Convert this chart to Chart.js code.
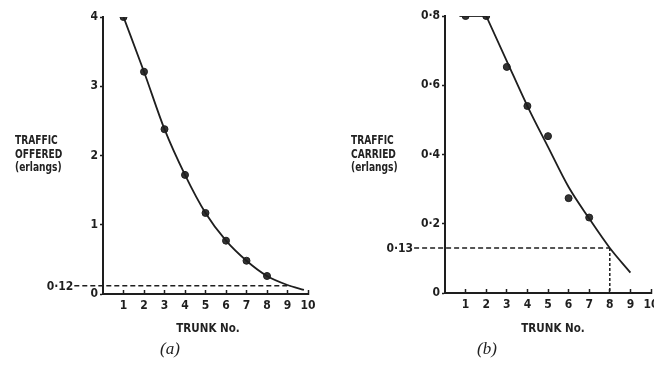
<!DOCTYPE html>
<html>
<head>
<meta charset="utf-8">
<script src="https://cdn.jsdelivr.net/npm/chart.js@4.4.1/dist/chart.umd.min.js"></script>
<style>
html, body { margin: 0; padding: 0; background: #fff; overflow: hidden; width: 654px; height: 373px; }
canvas { position: absolute; top: 0; }
#chartA { left: 0; }
#chartB { left: 330px; }
.lbl { position: absolute; font-family: "Liberation Sans Narrow", "DejaVu Sans Condensed", sans-serif; font-weight: bold; font-size: 11.5px; line-height: 13.7px; color: #222; }
.ttl { transform: scaleX(0.88); transform-origin: left top; }
.ctr { text-align: center; width: 120px; }
.cap { position: absolute; font-family: "Liberation Serif", serif; font-style: italic; font-size: 17px; line-height: 17px; color: #222; width: 60px; text-align: center; }
</style>
</head>
<body>
<canvas id="chartA" width="330" height="373"></canvas>
<canvas id="chartB" width="344" height="373"></canvas>

<div class="lbl ttl" style="left:15px; top:134px;">TRAFFIC<br>OFFERED<br>(erlangs)</div>
<div class="lbl ttl" style="left:351px; top:134px;">TRAFFIC<br>CARRIED<br>(erlangs)</div>
<div class="lbl ctr" style="left:148px; top:322px;">TRUNK No.</div>
<div class="lbl ctr" style="left:493px; top:322px;">TRUNK No.</div>
<div class="cap" style="left:140px; top:340px;">(a)</div>
<div class="cap" style="left:457px; top:340px;">(b)</div>

<script>
// (a) traffic offered to each trunk
const trunksA = [1, 2, 3, 4, 5, 6, 7, 8];
const offeredMarks = [4.0, 3.21, 2.38, 1.72, 1.17, 0.77, 0.48, 0.26];
// fitted curve, carried on past the last point
const offeredCurveX = [1, 2, 3, 4, 5, 6, 7, 8, 9, 9.8];
const offeredCurve = [4.0, 3.21, 2.38, 1.72, 1.17, 0.77, 0.48, 0.26, 0.13, 0.06];
const refLevelA = 0.12;
const refCrossA = 9.15;

// (b) traffic carried by each trunk
const trunksB = [1, 2, 3, 4, 5, 6, 7];
const carriedMarks = [0.8, 0.8, 0.653, 0.54, 0.453, 0.274, 0.218];
const carriedFlatX = [0.7, 2];
const carriedFlat = [0.8, 0.8];
const carriedCurveX = [2, 3, 4, 5, 6, 7, 8, 9];
const carriedCurve = [0.8, 0.67, 0.54, 0.422, 0.306, 0.215, 0.13, 0.059];
const refLevelB = 0.13;
const refTrunkB = 8;

const INK = '#1e1e1e';
const FONT = '"Liberation Sans Narrow", "DejaVu Sans Condensed", sans-serif';
Chart.defaults.font.family = FONT;
Chart.defaults.color = INK;

function pts(xs, ys) {
    return xs.map((x, i) => ({ x: x, y: ys[i] }));
}

function decimal(v) {
    if (v === 0) return '0';
    return v.toFixed(Math.round(v * 10) !== v * 10 ? 2 : 1).replace('.', '·');
}

// label for the dashed reference level, left of the dashes
const refLabel = {
    id: 'refLabel',
    afterDatasetsDraw(chart, args, opts) {
        const { ctx, scales } = chart;
        ctx.save();
        ctx.font = 'bold 12px ' + FONT;
        ctx.fillStyle = INK;
        ctx.textAlign = 'right';
        ctx.textBaseline = 'middle';
        ctx.fillText(decimal(opts.value), scales.x.getPixelForValue(opts.from) - 1, scales.y.getPixelForValue(opts.value) + 1);
        ctx.restore();
    }
};

function xAxis(height) {
    return {
        type: 'linear',
        min: 0,
        max: 10,
        afterFit: s => { s.height = height; },
        afterBuildTicks: s => { s.ticks = [1, 2, 3, 4, 5, 6, 7, 8, 9, 10].map(v => ({ value: v })); },
        border: { color: INK, width: 2 },
        grid: { drawOnChartArea: false, tickLength: -4, tickWidth: 1.5, tickColor: INK },
        ticks: { font: { size: 12, weight: 'bold' }, padding: 9, maxRotation: 0, autoSkip: false }
    };
}

function yAxis(width, max, step, fmt) {
    return {
        min: 0,
        max: max,
        afterFit: s => { s.width = width; },
        afterBuildTicks: s => {
            const t = [];
            for (let v = 0; v <= max + 1e-9; v += step) t.push({ value: Math.round(v * 100) / 100 });
            s.ticks = t;
        },
        border: { color: INK, width: 2 },
        grid: { drawOnChartArea: false, tickLength: 3, tickWidth: 1.5, tickColor: INK },
        ticks: { font: { size: 12, weight: 'bold' }, padding: 2, autoSkip: false, callback: fmt }
    };
}

const lineStyle = { borderColor: INK, borderWidth: 1.8, pointRadius: 0, cubicInterpolationMode: 'monotone', fill: false };
const markStyle = { showLine: false, pointRadius: 3.5, pointBackgroundColor: '#333', pointBorderColor: INK, pointBorderWidth: 1 };
const dashStyle = { borderColor: INK, borderWidth: 1.5, borderDash: [5, 3], pointRadius: 0, clip: false, tension: 0 };

new Chart(document.getElementById('chartA'), {
    type: 'line',
    data: {
        datasets: [
            Object.assign({ data: pts([-1.4, refCrossA], [refLevelA, refLevelA]) }, dashStyle),
            Object.assign({ data: pts(offeredCurveX, offeredCurve) }, lineStyle),
            Object.assign({ data: pts(trunksA, offeredMarks) }, markStyle)
        ]
    },
    options: {
        responsive: false,
        animation: false,
        layout: { padding: { top: 17, right: 22, bottom: 0, left: 0 } },
        plugins: { legend: { display: false }, tooltip: { enabled: false }, refLabel: { value: refLevelA, from: -1.4 } },
        scales: {
            x: xAxis(79),
            y: yAxis(103, 4, 1, v => String(v))
        }
    },
    plugins: [refLabel]
});

new Chart(document.getElementById('chartB'), {
    type: 'line',
    data: {
        datasets: [
            Object.assign({ data: pts([-1.5, refTrunkB], [refLevelB, refLevelB]) }, dashStyle),
            Object.assign({ data: pts([refTrunkB, refTrunkB], [refLevelB, 0]) }, dashStyle, { borderDash: [3, 2] }),
            Object.assign({ data: pts(carriedFlatX, carriedFlat) }, lineStyle),
            Object.assign({ data: pts(carriedCurveX, carriedCurve) }, lineStyle),
            Object.assign({ data: pts(trunksB, carriedMarks) }, markStyle)
        ]
    },
    options: {
        responsive: false,
        animation: false,
        layout: { padding: { top: 16, right: 23, bottom: 0, left: 0 } },
        plugins: { legend: { display: false }, tooltip: { enabled: false }, refLabel: { value: refLevelB, from: -1.5 } },
        scales: {
            x: xAxis(80),
            y: yAxis(115, 0.8, 0.2, v => decimal(v))
        }
    },
    plugins: [refLabel]
});
</script>
</body>
</html>
